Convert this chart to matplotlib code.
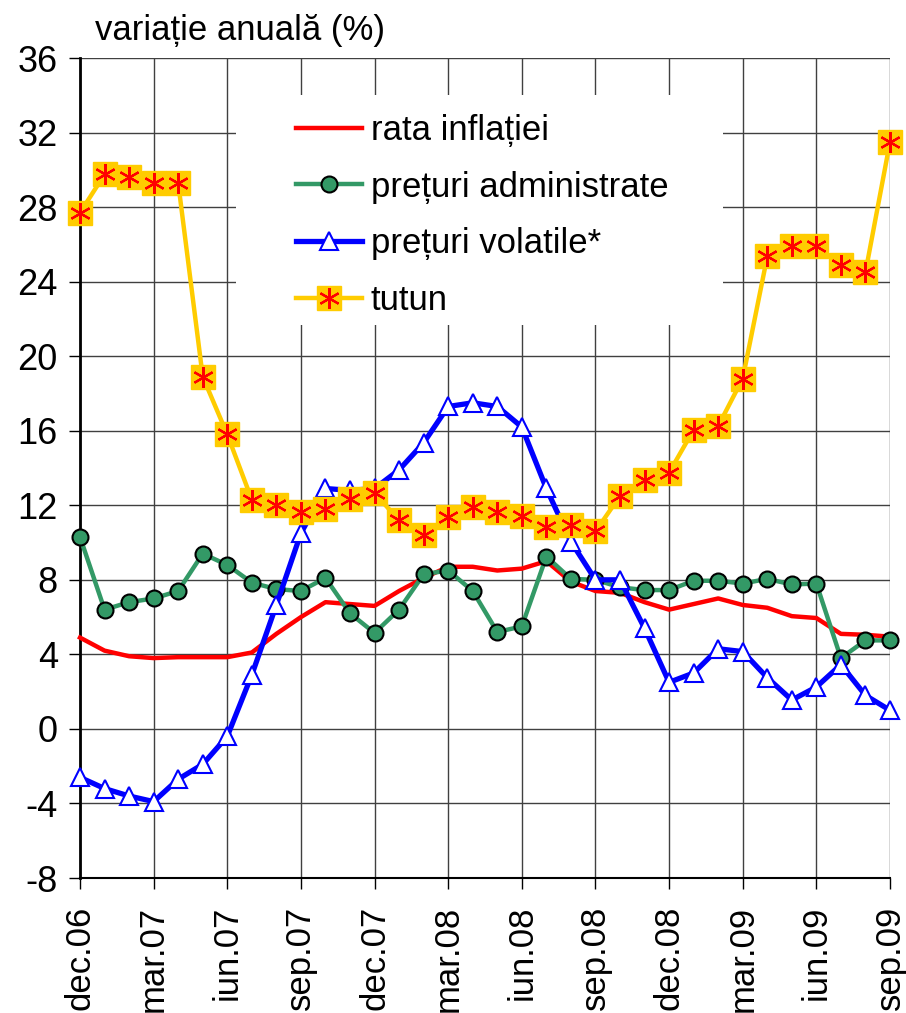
import matplotlib.pyplot as plt
from matplotlib.legend_handler import HandlerTuple
from matplotlib.patches import Rectangle

plt.rcParams["font.family"] = ["Liberation Sans", "DejaVu Sans"]
plt.rcParams["axes.unicode_minus"] = False

# monthly, dec.06 ... sep.09
months = list(range(34))
tick_pos = list(range(0, 34, 3))
tick_labels = ["dec.06", "mar.07", "iun.07", "sep.07", "dec.07", "mar.08",
               "iun.08", "sep.08", "dec.08", "mar.09", "iun.09", "sep.09"]

rata_inflatiei = [4.9, 4.2, 3.9, 3.8, 3.85, 3.85, 3.85, 4.1, 5.1, 6.0, 6.8, 6.7,
                  6.6, 7.4, 8.1, 8.7, 8.7, 8.5, 8.6, 9.0, 7.9, 7.4,
                  7.3, 6.8, 6.4, 6.7, 7.0, 6.65, 6.5, 6.05, 5.95, 5.1, 5.05, 4.95]
preturi_administrate = [10.3, 6.4, 6.8, 7.0, 7.4, 9.4, 8.8, 7.85, 7.5, 7.4, 8.1, 6.2,
                        5.15, 6.4, 8.3, 8.5, 7.4, 5.2, 5.5, 9.25, 8.05, 8.0,
                        7.6, 7.45, 7.45, 7.95, 7.95, 7.8, 8.05, 7.75, 7.8, 3.8, 4.75, 4.75]
preturi_volatile = [-2.6, -3.2, -3.6, -3.9, -2.7, -1.9, -0.4, 2.9, 6.65, 10.5, 12.9, 12.8,
                    12.9, 13.9, 15.35, 17.3, 17.5, 17.3, 16.2, 12.9, 10.05, 8.0,
                    8.0, 5.4, 2.5, 3.0, 4.3, 4.15, 2.75, 1.55, 2.25, 3.45, 1.8, 1.0]
tutun = [27.7, 29.75, 29.6, 29.3, 29.3, 18.9, 15.8, 12.3, 12.0, 11.65, 11.8, 12.35,
         12.65, 11.2, 10.4, 11.35, 11.9, 11.65, 11.45, 10.85, 10.95, 10.6,
         12.5, 13.35, 13.75, 16.05, 16.25, 18.8, 25.35, 25.9, 25.9, 24.9, 24.5, 31.5]

fig = plt.figure(figsize=(9.06, 10.13), dpi=100)
ax = fig.add_axes([80 / 906, 1 - 878 / 1013, 810 / 906, 820 / 1013])

l1, = ax.plot(months, rata_inflatiei, color="#FF0000", lw=3.2, zorder=3, clip_on=False)
l2, = ax.plot(months, preturi_administrate, color="#339966", lw=3.2, marker="o",
              markersize=11.5, markerfacecolor="#339966", markeredgecolor="black",
              markeredgewidth=1.5, zorder=4, clip_on=False)
l3, = ax.plot(months, preturi_volatile, color="#0000FF", lw=3.8, marker="^",
              markersize=13.5, markerfacecolor="white", markeredgecolor="#0000FF",
              markeredgewidth=1.5, zorder=5, clip_on=False)
l4, = ax.plot(months, tutun, color="#FFCC00", lw=3.2, marker="s", markersize=17,
              markerfacecolor="#FFCC00", markeredgecolor="#FFCC00", zorder=6, clip_on=False)
l4b, = ax.plot(months, tutun, linestyle="none", marker=(6, 2, 0), markersize=15,
               markeredgecolor="#FF0000", markeredgewidth=1.6, zorder=7, clip_on=False)

ax.set_xlim(0, 33)
ax.set_ylim(-8, 36)
ax.set_yticks(range(-8, 37, 4))
ax.set_xticks(tick_pos)
ax.set_xticklabels(tick_labels, rotation=90)
ax.tick_params(axis="both", labelsize=25, length=8, width=1, direction="out")
ax.tick_params(axis="x", pad=12)
ax.tick_params(axis="y", labelsize=26, pad=8)

ax.grid(True, color="#404040", lw=1)
ax.set_axisbelow(True)
for side in ["top", "right"]:
    ax.spines[side].set_visible(False)
ax.spines["left"].set_linewidth(2)
ax.spines["bottom"].set_linewidth(1.5)

fig.text(95 / 906, 1 - 40 / 1013, "variație anuală (%)", fontsize=25, va="baseline")

# white legend area hiding the grid
ax.add_patch(Rectangle((0.1926, 0.6744), 0.6012, 0.2805, transform=ax.transAxes,
                       facecolor="white", edgecolor="none", zorder=2))

leg = ax.legend([l1, l2, l3, (l4, l4b)],
                ["rata inflației", "prețuri administrate", "prețuri volatile*", "tutun"],
                handler_map={tuple: HandlerTuple(ndivide=1)},
                loc="upper left", bbox_to_anchor=((296 - 80) / 810, (878 - 114) / 820),
                borderaxespad=0, fontsize=25, handlelength=1.9, handletextpad=0.25,
                labelspacing=0.68, borderpad=0, numpoints=1, frameon=False)

fig.savefig("out.png", dpi=100)
